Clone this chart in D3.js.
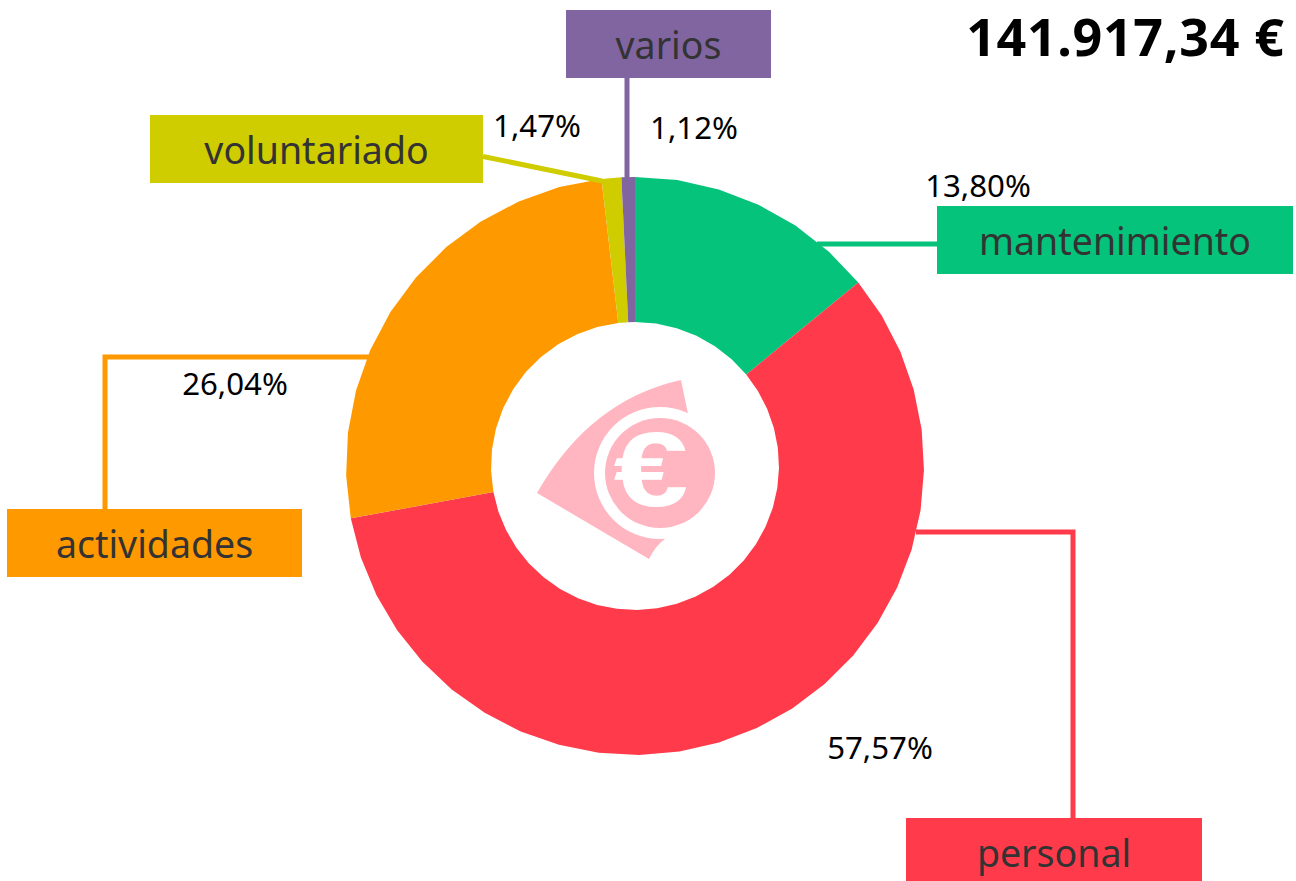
<!DOCTYPE html>
<html>
<head>
<meta charset="utf-8">
<script src="https://cdn.jsdelivr.net/npm/d3@7"></script>
<style>
  html, body { margin: 0; padding: 0; background: #fff; overflow: hidden; }
  text { font-family: "Noto Sans", sans-serif; }
</style>
</head>
<body>
<div id="chart"></div>
<script>
// Gasto por partidas, clockwise from 12 o'clock
const categories = ['mantenimiento', 'personal', 'actividades', 'voluntariado', 'varios'];
const percents = [13.80, 57.57, 26.04, 1.47, 1.12];
// the slices as drawn in the picture do not follow the printed labels exactly
const sliceShares = [14.05, 58.05, 26.05, 1.10, 0.75];
const colors = ['#05c37b', '#ff3b4b', '#ff9900', '#cfcd00', '#8165a1'];
const total = '141.917,34 €';

// label box, leader line and percent label layout, per category
const boxes = [
  {x: 937, y: 206, w: 356, h: 68},
  {x: 906, y: 818, w: 296, h: 63},
  {x: 7, y: 509, w: 295, h: 68},
  {x: 150, y: 115, w: 333, h: 68},
  {x: 566, y: 10, w: 205, h: 68}
];
const leaders = [
  [[817, 244], [937, 244]],
  [[916, 532], [1073, 532], [1073, 818]],
  [[370, 357], [105, 357], [105, 509]],
  [[483, 156.5], [602, 181]],
  [[627, 78], [627, 178]]
];
const pctPos = [[978, 197], [880, 759], [235, 395], [537, 137], [694, 139]];

const width = 1296, height = 881;
const cx = 635, cy = 466, rOuter = 289, rInner = 144;

const svg = d3.select('#chart').append('svg')
  .attr('width', width)
  .attr('height', height);

const pie = d3.pie().sort(null).value(d => d);
const arcs = pie(sliceShares);

const g = svg.append('g').attr('transform', `translate(${cx},${cy})`);

// the original's arcs are flattened into short chords
const chord = Math.PI / 22;
function ringPoints(a0, a1, r) {
  const n = Math.max(1, Math.round((a1 - a0) / chord));
  return d3.range(n + 1).map(i => {
    const a = a0 + (a1 - a0) * i / n;
    return [r * Math.sin(a), -r * Math.cos(a)];
  });
}
const line = d3.line();
g.selectAll('path.slice')
  .data(arcs)
  .enter()
  .append('path')
  .attr('class', 'slice')
  .attr('fill', (d, i) => colors[i])
  .attr('d', d => line(ringPoints(d.startAngle, d.endAngle, rOuter)
    .concat(ringPoints(d.startAngle, d.endAngle, rInner).reverse())) + 'Z');

// leader lines
const leaderLine = d3.line();
svg.selectAll('path.leader')
  .data(leaders)
  .enter()
  .append('path')
  .attr('class', 'leader')
  .attr('fill', 'none')
  .attr('stroke', (d, i) => colors[i])
  .attr('stroke-width', 5)
  .attr('d', d => leaderLine(d));

// label boxes
svg.selectAll('rect.box')
  .data(boxes)
  .enter()
  .append('rect')
  .attr('class', 'box')
  .attr('x', d => d.x)
  .attr('y', d => d.y)
  .attr('width', d => d.w)
  .attr('height', d => d.h)
  .attr('fill', (d, i) => colors[i]);

svg.selectAll('text.cat')
  .data(boxes)
  .enter()
  .append('text')
  .attr('class', 'cat')
  .attr('x', d => d.x + d.w / 2)
  .attr('y', d => d.y + 48.5)
  .attr('text-anchor', 'middle')
  .attr('fill', '#333333')
  .style('font-size', '37.5px')
  .text((d, i) => categories[i]);

// percent labels
svg.selectAll('text.pct')
  .data(percents)
  .enter()
  .append('text')
  .attr('class', 'pct')
  .attr('x', (d, i) => pctPos[i][0])
  .attr('y', (d, i) => pctPos[i][1])
  .attr('text-anchor', 'middle')
  .attr('fill', '#000')
  .style('font-size', '31.2px')
  .text(d => d.toFixed(2).replace('.', ',') + '%');

// total
svg.append('text')
  .attr('x', 1284.6)
  .attr('y', 55.8)
  .attr('text-anchor', 'end')
  .attr('fill', '#000')
  .style('font-size', '52px')
  .style('letter-spacing', '0.65px')
  .style('font-weight', 'bold')
  .text(total);

// money icon in the hole
const icon = svg.append('g');
icon.append('path')
  .attr('fill', '#ffb6c1')
  .attr('d', 'M537,493 Q590,400 681,380 L688,414 L660,473 L666,538 Q655,546 649,559 Z');
icon.append('circle')
  .attr('cx', 660).attr('cy', 473).attr('r', 66)
  .attr('fill', '#fff');
icon.append('circle')
  .attr('cx', 660).attr('cy', 473).attr('r', 55)
  .attr('fill', '#ffb6c1');
icon.append('text')
  .attr('transform', 'translate(651,506) scale(1.27,1)')
  .attr('text-anchor', 'middle')
  .attr('fill', '#fff')
  .style('font-family', '"Liberation Sans", sans-serif')
  .style('font-weight', 'bold')
  .style('font-size', '106px')
  .text('€');
</script>
</body>
</html>
